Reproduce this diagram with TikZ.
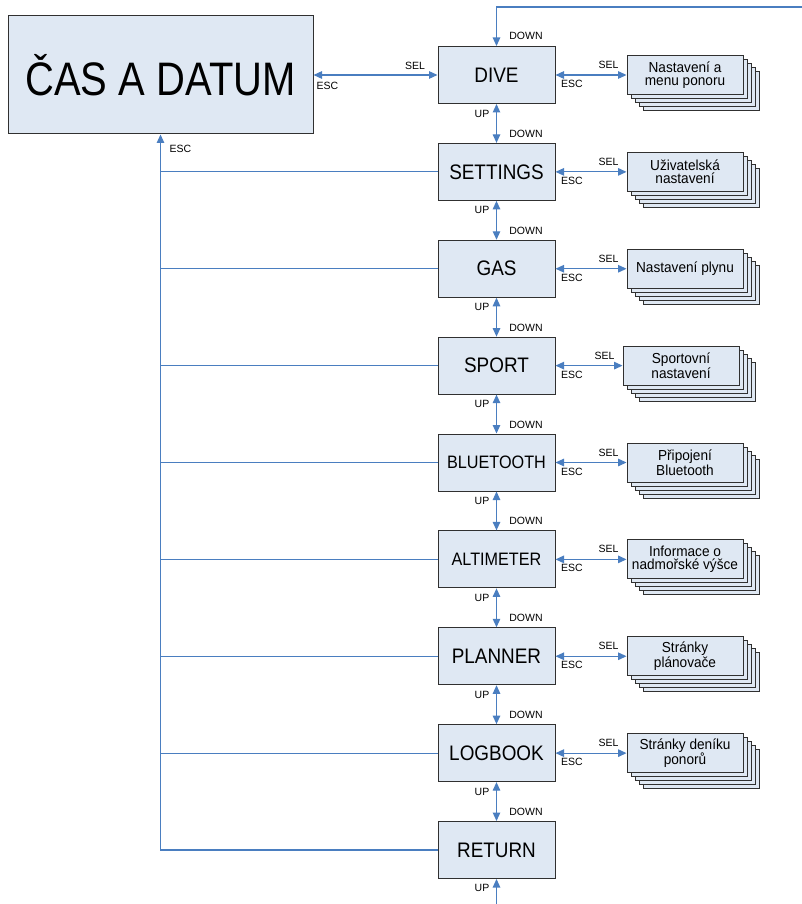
\documentclass[tikz,border=0pt]{standalone}
\usepackage{fontspec}
\setmainfont{Liberation Sans}
\newfontfamily\condfont[FakeStretch=0.9]{Liberation Sans}
\newfontfamily\bigfont[FakeStretch=0.85]{Liberation Sans}
\newfontfamily\pagefont[FakeStretch=0.94]{Liberation Sans}
\usetikzlibrary{arrows.meta}
\definecolor{boxfill}{HTML}{DFE8F3}
\definecolor{boxline}{HTML}{303030}
\definecolor{arr}{HTML}{4A7EC0}
\tikzset{
  casbox/.style={draw=boxline, fill=boxfill, line width=1pt, minimum width=305pt, minimum height=118pt, inner sep=0pt, font=\bigfont\fontsize{47}{50}\selectfont},
  menubox/.style={draw=boxline, fill=boxfill, line width=1pt, minimum width=117pt, minimum height=57pt, inner sep=0pt},
  pagebox/.style={draw=boxline, fill=boxfill, line width=0.9pt, minimum width=116pt, minimum height=39pt, inner sep=0pt, align=center, font=\pagefont\fontsize{14.5}{12.7}\selectfont},
  stackback/.style={draw=boxline, fill=boxfill, line width=0.9pt},
  lbl/.style={font=\fontsize{10.5}{12}\selectfont, inner sep=0pt},
  conn/.style={draw=arr, line width=1.2pt},
  tip/.style={-{Triangle[width=7.5pt,length=8.5pt]}},
  tips/.style={{Triangle[width=7.5pt,length=8.5pt]}-{Triangle[width=7.5pt,length=8.5pt]}},
}
\begin{document}
\begin{tikzpicture}[x=1pt,y=-1pt]
\useasboundingbox (0,0) rectangle (802,904);
\node[casbox] (cas) at (160.5,75) {ČAS A DATUM};
\foreach \n/\t/\f [count=\i from 0] in {dive/DIVE/21, set/SETTINGS/21, gas/GAS/21, sport/SPORT/21, bt/BLUETOOTH/18, alt/ALTIMETER/18, plan/PLANNER/21, log/LOGBOOK/21, ret/RETURN/21}
  \node[menubox, font=\condfont\fontsize{\f}{\f}\selectfont] (\n) at (496.5,{75+96.875*\i}) {\t};
% vertical UP/DOWN arrows
\foreach \a/\b in {dive/set, set/gas, gas/sport, sport/bt, bt/alt, alt/plan, plan/log, log/ret} {
  \draw[conn,tips] (\a.south) -- (\b.north);
  \node[lbl] (up-\a) at ([xshift=-14.5pt,yshift=-9.5pt]\a.south) {UP};
  \node[lbl] (dn-\b) at ([xshift=29.5pt,yshift=9pt]\b.north) {DOWN};
}
\coordinate (tr) at (802,7);
\draw[conn,tip] (tr) -- (tr -| dive.north) -- (dive.north);
\node[lbl] (dn-dive) at ([xshift=29.5pt,yshift=10pt]dive.north) {DOWN};
\coordinate (bb) at (496.5,904);
\draw[conn,tip] (bb) -- (ret.south);
\node[lbl] (up-ret) at ([xshift=-14.5pt,yshift=-9pt]ret.south) {UP};
% stacks
\foreach \n/\cx/\t [count=\i from 0] in {dive/685/{Nastavení a\\menu ponoru}, set/685/{Uživatelská\\nastavení}, gas/685/{Nastavení plynu}, sport/681/{Sportovní\\nastavení}, bt/685/{Připojení\\Bluetooth}, alt/685/{Informace o\\nadmořské výšce}, plan/685/{Stránky\\plánovače}, log/685/{Stránky deníku\\ponorů}} {
  \pgfmathsetmacro\cy{75+96.875*\i}
  \foreach \k in {4,3,2,1}
    \draw[stackback] ({\cx-58+4*\k},{\cy-19.5+4*\k}) rectangle ++(116,39);
  \node[pagebox] (p-\n) at (\cx,\cy) {\t};
  \draw[conn,tips] (\n.east) -- (p-\n.west);
  \node[lbl] (sel-\n) at ([xshift=-18pt,yshift=10pt]p-\n.west) {SEL};
  \node[lbl] (esc-\n) at ([xshift=16.5pt,yshift=-9pt]\n.east) {ESC};
}
% left return lines
\coordinate (lb) at (cas.south |- ret.west);
\draw[conn,tip] (ret.west) -- (lb) -- (cas.south);
\foreach \n in {set,gas,sport,bt,alt,plan,log}
  \draw[conn] (\n.west) -- (\n.west -| lb);
\draw[conn,tips] (cas.east) -- (dive.west);
\node[lbl] (sel-cas) at (415,66) {SEL};
\node[lbl] (esc-cas) at (327.5,86) {ESC};
\node[lbl] (esc-left) at (180.5,148.5) {ESC};
\end{tikzpicture}
\end{document}
